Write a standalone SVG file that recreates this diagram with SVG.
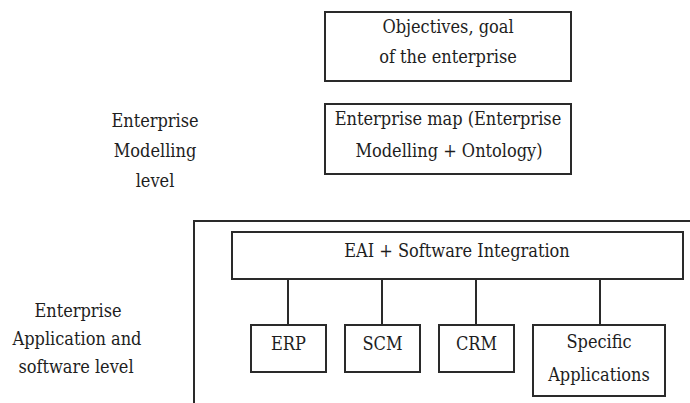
<svg xmlns="http://www.w3.org/2000/svg" width="690" height="403" viewBox="0 0 690 403">
<style>
  .box { fill: #fff; stroke: #2a2a2a; stroke-width: 2; }
  .frame { fill: none; stroke: #2a2a2a; stroke-width: 2; }
  .conn { stroke: #2a2a2a; stroke-width: 2; fill: none; }
  .t { font-family: 'DejaVu Serif Condensed', 'DejaVu Serif', 'Liberation Serif', serif; font-stretch: condensed; font-size: 18px; fill: #1e1e1e; text-anchor: middle; }
</style>
<rect width="690" height="403" fill="#fff"/>

<g id="label-modelling" class="t">
  <text x="155" y="127">Enterprise</text>
  <text x="155" y="157">Modelling</text>
  <text x="155" y="187">level</text>
</g>
<g id="label-application" class="t">
  <text x="78" y="317">Enterprise</text>
  <text x="77" y="345">Application and</text>
  <text x="76" y="373">software level</text>
</g>

<g id="objectives" class="t">
  <rect class="box" x="325" y="12" width="246" height="69"/>
  <text x="448" y="33">Objectives, goal</text>
  <text x="448" y="63">of the enterprise</text>
</g>
<g id="enterprise-map" class="t">
  <rect class="box" x="325" y="104" width="246" height="70"/>
  <text x="448" y="125">Enterprise map (Enterprise</text>
  <text x="449" y="157">Modelling + Ontology)</text>
</g>

<g id="application-level-frame">
  <rect class="frame" x="194" y="221" width="520" height="200"/>
</g>

<g id="connectors">
  <line class="conn" x1="288" y1="279" x2="288" y2="325"/>
  <line class="conn" x1="382" y1="279" x2="382" y2="325"/>
  <line class="conn" x1="476" y1="279" x2="476" y2="325"/>
  <line class="conn" x1="600" y1="279" x2="600" y2="325"/>
</g>

<g id="eai" class="t">
  <rect class="box" x="232" y="232" width="451" height="47"/>
  <text x="457" y="257">EAI + Software Integration</text>
</g>
<g id="erp" class="t">
  <rect class="box" x="251" y="325" width="75" height="47"/>
  <text x="288.5" y="350">ERP</text>
</g>
<g id="scm" class="t">
  <rect class="box" x="345" y="325" width="75" height="47"/>
  <text x="382.5" y="350">SCM</text>
</g>
<g id="crm" class="t">
  <rect class="box" x="439" y="325" width="75" height="47"/>
  <text x="476.5" y="350">CRM</text>
</g>
<g id="specific" class="t">
  <rect class="box" x="533" y="325" width="132" height="71"/>
  <text x="599" y="348">Specific</text>
  <text x="599" y="381">Applications</text>
</g>
</svg>
